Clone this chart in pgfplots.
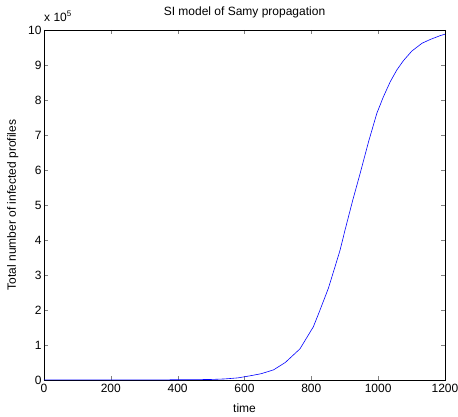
\documentclass[border=0pt]{standalone}
\usepackage{pgfplots}
\pgfplotsset{compat=1.18}
\usepackage{fontspec}
\setmainfont{Liberation Sans}
\begin{document}
\begin{tikzpicture}
\path[use as bounding box] (-44pt,-37pt) rectangle (414pt,380pt);
\begin{axis}[
  scale only axis,
  width=401pt, height=350pt,
  xmin=0, xmax=1200, ymin=0, ymax=10,
  xtick={0,200,...,1200}, ytick={0,1,...,10},
  tick align=inside, major tick length=4pt,
  xtick pos=both, ytick pos=both,
  /pgf/number format/assume math mode=true,
  /pgf/number format/1000 sep={},
  tick label style={font=\fontsize{12}{14}\selectfont},
  label style={font=\fontsize{12}{14}\selectfont},
  xticklabel style={yshift=-1pt},
  yticklabel style={xshift=1pt},
  xlabel={time},
  xlabel style={at={(axis description cs:0.5,-0.08)},anchor=center},
  ylabel={Total number of infected profiles},
  ylabel style={at={(axis description cs:-0.078,0.5)},anchor=center},
  axis line style={line width=0.8pt},
  clip=false,
]
\addplot[blue, line width=0.6pt] coordinates {
(0,0.002) (200,0.003) (400,0.006) (500,0.015) (540,0.03) (580,0.06) (617,0.12)
(650,0.18) (687,0.29) (722,0.5) (766,0.89) (806,1.52) (826,2.0) (851,2.62)
(871,3.24) (886,3.71) (901,4.29) (924,5.14) (946,5.9) (971,6.8) (996,7.62)
(1016,8.1) (1036,8.52) (1056,8.86) (1076,9.13) (1101,9.4) (1131,9.62) (1156,9.73)
(1186,9.84) (1200,9.88)
};
\node[font=\fontsize{12}{14}\selectfont, anchor=south] at (axis description cs:0.5,1.025) {SI model of Samy propagation};
\node[font=\fontsize{12}{14}\selectfont, anchor=south west, inner sep=0pt] at (axis description cs:0.0,1.022) {x 10\raisebox{0.45em}{\fontsize{8}{9}\selectfont 5}};
\end{axis}
\end{tikzpicture}
\end{document}
